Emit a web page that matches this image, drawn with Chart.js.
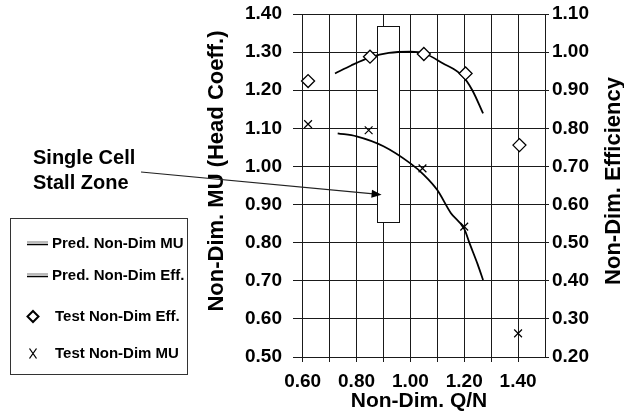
<!DOCTYPE html>
<html>
<head>
<meta charset="utf-8">
<script src="https://cdn.jsdelivr.net/npm/chart.js@4.4.1/dist/chart.umd.min.js"></script>
<style>
  html, body { margin: 0; padding: 0; background: #fff; }
</style>
</head>
<body>
<canvas id="chart" width="624" height="417"></canvas>
<script>
// Eixos
const qTicks = [0.6, 0.7, 0.8, 0.9, 1.0, 1.1, 1.2, 1.3, 1.4];
const qLabels = ['0.60', '', '0.80', '', '1.00', '', '1.20', '', '1.40'];
const muTicks = [0.5, 0.6, 0.7, 0.8, 0.9, 1.0, 1.1, 1.2, 1.3, 1.4];
const effTicks = [0.2, 0.3, 0.4, 0.5, 0.6, 0.7, 0.8, 0.9, 1.0, 1.1];

// Curvas previstas
const predMuQ = [0.73, 0.80, 0.90, 1.00, 1.05, 1.10, 1.15, 1.20, 1.22, 1.25, 1.27];
const predMu  = [1.087, 1.079, 1.053, 1.008, 0.978, 0.938, 0.878, 0.836, 0.798, 0.743, 0.702];
const predEffQ = [0.72, 0.78, 0.85, 0.92, 1.00, 1.05, 1.12, 1.19, 1.23, 1.27];
const predEff  = [0.944, 0.965, 0.986, 0.998, 1.001, 0.997, 0.971, 0.940, 0.900, 0.839];

// Pontos de ensaio
const testEffQ = [0.62, 0.85, 1.05, 1.205, 1.405];
const testEff  = [0.924, 0.988, 0.995, 0.944, 0.756];
const testMuQ = [0.62, 0.845, 1.045, 1.20, 1.40];
const testMu  = [1.111, 1.095, 0.995, 0.842, 0.562];

// Zona de stall (Q/N e MU)
const stallQ = [0.875, 0.958];
const stallMu = [0.855, 1.369];
const arrowTip = [0.893, 0.926];

const FONT = "'Liberation Sans', Arial, sans-serif";
const toXY = (xs, ys) => xs.map((v, i) => ({ x: v, y: ys[i] }));

function textoVertical(ctx, txt, x, y, size) {
  ctx.save();
  ctx.translate(x, y);
  ctx.rotate(-Math.PI / 2);
  ctx.font = `bold ${size}px ${FONT}`;
  ctx.textAlign = 'center';
  ctx.textBaseline = 'middle';
  ctx.fillText(txt, 0, 0);
  ctx.restore();
}

// sem padding extra por causa dos rótulos (área do gráfico fixa)
function larguraFixa(w) {
  return s => { s.width = w; s.paddingTop = 0; s.paddingBottom = 0; };
}

const anotacoes = {
  id: 'anotacoes',
  beforeDatasetsDraw(chart) {
    const { ctx, scales: { x, y } } = chart;
    const x0 = Math.round(x.getPixelForValue(stallQ[0]));
    const x1 = Math.round(x.getPixelForValue(stallQ[1]));
    const y0 = Math.round(y.getPixelForValue(stallMu[1]));
    const y1 = Math.round(y.getPixelForValue(stallMu[0]));
    ctx.save();
    ctx.fillStyle = '#fff';
    ctx.fillRect(x0, y0, x1 - x0, y1 - y0);
    ctx.strokeStyle = '#111';
    ctx.lineWidth = 1;
    ctx.strokeRect(x0 + 0.5, y0 + 0.5, x1 - x0, y1 - y0);
    ctx.restore();
  },
  afterDraw(chart) {
    const { ctx, scales: { x, y } } = chart;
    ctx.save();
    ctx.fillStyle = '#000';

    // títulos dos eixos verticais (lidos de baixo para cima)
    textoVertical(ctx, 'Non-Dim. MU (Head Coeff.)', 217, 171, 22);
    textoVertical(ctx, 'Non-Dim. Efficiency', 614, 181, 22);

    // texto + seta
    ctx.font = `bold 20px ${FONT}`;
    ctx.textAlign = 'left';
    ctx.textBaseline = 'middle';
    ctx.fillText('Single Cell', 33, 158);
    ctx.fillText('Stall Zone', 33, 183);

    const sx = 141, sy = 172;
    const tx = x.getPixelForValue(arrowTip[0]);
    const ty = y.getPixelForValue(arrowTip[1]);
    const ang = Math.atan2(ty - sy, tx - sx);
    ctx.strokeStyle = '#222';
    ctx.lineWidth = 1.2;
    ctx.beginPath();
    ctx.moveTo(sx, sy);
    ctx.lineTo(tx - 8 * Math.cos(ang), ty - 8 * Math.sin(ang));
    ctx.stroke();
    ctx.beginPath();
    ctx.moveTo(tx, ty);
    ctx.lineTo(tx - 10 * Math.cos(ang) + 4 * Math.sin(ang), ty - 10 * Math.sin(ang) - 4 * Math.cos(ang));
    ctx.lineTo(tx - 10 * Math.cos(ang) - 4 * Math.sin(ang), ty - 10 * Math.sin(ang) + 4 * Math.cos(ang));
    ctx.closePath();
    ctx.fill();

    // legenda
    ctx.strokeStyle = '#333';
    ctx.lineWidth = 1;
    ctx.strokeRect(10.5, 218.5, 177, 156);
    ctx.font = `bold 15px ${FONT}`;
    const ds = chart.data.datasets;
    const rows = [
      { label: ds[2].label, y: 243.5, kind: 'line', tx: 52 },
      { label: ds[3].label, y: 275.5, kind: 'line', tx: 52 },
      { label: ds[0].label, y: 316.5, kind: 'diamond', tx: 55 },
      { label: ds[1].label, y: 353.5, kind: 'cross', tx: 55 }
    ];
    rows.forEach(r => {
      ctx.fillStyle = '#000';
      ctx.fillText(r.label, r.tx, r.y);
      if (r.kind === 'line') {
        ctx.strokeStyle = '#777';
        ctx.lineWidth = 1;
        ctx.beginPath(); ctx.moveTo(27, r.y - 1.5); ctx.lineTo(48, r.y - 1.5); ctx.stroke();
        ctx.strokeStyle = '#000';
        ctx.lineWidth = 1.5;
        ctx.beginPath(); ctx.moveTo(27, r.y + 1); ctx.lineTo(48, r.y + 1); ctx.stroke();
      } else if (r.kind === 'diamond') {
        ctx.strokeStyle = '#000';
        ctx.lineWidth = 2;
        ctx.beginPath();
        ctx.moveTo(33, r.y - 5.5); ctx.lineTo(38.5, r.y); ctx.lineTo(33, r.y + 5.5); ctx.lineTo(27.5, r.y);
        ctx.closePath(); ctx.stroke();
      } else {
        ctx.strokeStyle = '#000';
        ctx.lineWidth = 1.3;
        ctx.beginPath();
        ctx.moveTo(29.5, r.y - 5); ctx.lineTo(36.5, r.y + 5);
        ctx.moveTo(36.5, r.y - 5); ctx.lineTo(29.5, r.y + 5);
        ctx.stroke();
      }
    });
    ctx.restore();
  }
};

const tickFont = { family: FONT, size: 19, weight: 'bold' };
const gridColor = '#1a1a1a';

new Chart(document.getElementById('chart'), {
  type: 'scatter',
  data: {
    datasets: [
      {
        label: 'Test Non-Dim Eff.',
        data: toXY(testEffQ, testEff),
        yAxisID: 'y1',
        pointStyle: 'rectRot',
        pointRadius: 6.5,
        backgroundColor: '#fff',
        borderColor: '#000',
        borderWidth: 1.3,
        order: 0
      },
      {
        label: 'Test Non-Dim MU',
        data: toXY(testMuQ, testMu),
        yAxisID: 'y',
        pointStyle: 'crossRot',
        pointRadius: 5.5,
        borderColor: '#000',
        borderWidth: 1.2,
        order: 1
      },
      {
        type: 'line',
        label: 'Pred. Non-Dim MU',
        data: toXY(predMuQ, predMu),
        yAxisID: 'y',
        borderColor: '#000',
        borderWidth: 1.8,
        pointRadius: 0,
        cubicInterpolationMode: 'monotone',
        fill: false,
        order: 2
      },
      {
        type: 'line',
        label: 'Pred. Non-Dim Eff.',
        data: toXY(predEffQ, predEff),
        yAxisID: 'y1',
        borderColor: '#000',
        borderWidth: 1.8,
        pointRadius: 0,
        cubicInterpolationMode: 'monotone',
        fill: false,
        order: 3
      }
    ]
  },
  options: {
    responsive: false,
    animation: false,
    layout: { padding: { top: 14, left: 0, right: 0, bottom: 0 } },
    plugins: { legend: { display: false }, tooltip: { enabled: false } },
    scales: {
      x: {
        type: 'linear',
        min: 0.564,
        max: 1.5,
        afterBuildTicks: s => { s.ticks = qTicks.map(v => ({ value: v })); },
        afterFit: s => { s.height = 60; s.paddingLeft = 0; s.paddingRight = 0; },
        ticks: {
          autoSkip: false, maxRotation: 0, padding: 8,
          color: '#000', font: tickFont,
          callback: (v, i) => qLabels[i]
        },
        grid: { color: gridColor, lineWidth: 1, tickLength: 5, drawTicks: true },
        border: { display: true, color: gridColor },
        title: {
          display: true, text: 'Non-Dim. Q/N', color: '#000',
          font: { family: FONT, size: 21, weight: 'bold', lineHeight: 1 },
          padding: { top: 0, bottom: 5 }
        }
      },
      y: {
        position: 'left',
        min: 0.5,
        max: 1.4,
        afterBuildTicks: s => { s.ticks = muTicks.map(v => ({ value: v })); },
        afterFit: larguraFixa(293),
        ticks: {
          padding: 11, color: '#000', font: tickFont,
          callback: v => v.toFixed(2)
        },
        grid: { color: gridColor, lineWidth: 1, drawTicks: false },
        border: { display: false }
      },
      y1: {
        position: 'right',
        min: 0.2,
        max: 1.1,
        afterBuildTicks: s => { s.ticks = effTicks.map(v => ({ value: v })); },
        afterFit: larguraFixa(79),
        ticks: {
          padding: 3, color: '#000', font: tickFont,
          callback: v => v.toFixed(2)
        },
        grid: { drawOnChartArea: false, color: gridColor, tickLength: 4 },
        border: { display: true, color: gridColor }
      }
    }
  },
  plugins: [anotacoes]
});
</script>
</body>
</html>
